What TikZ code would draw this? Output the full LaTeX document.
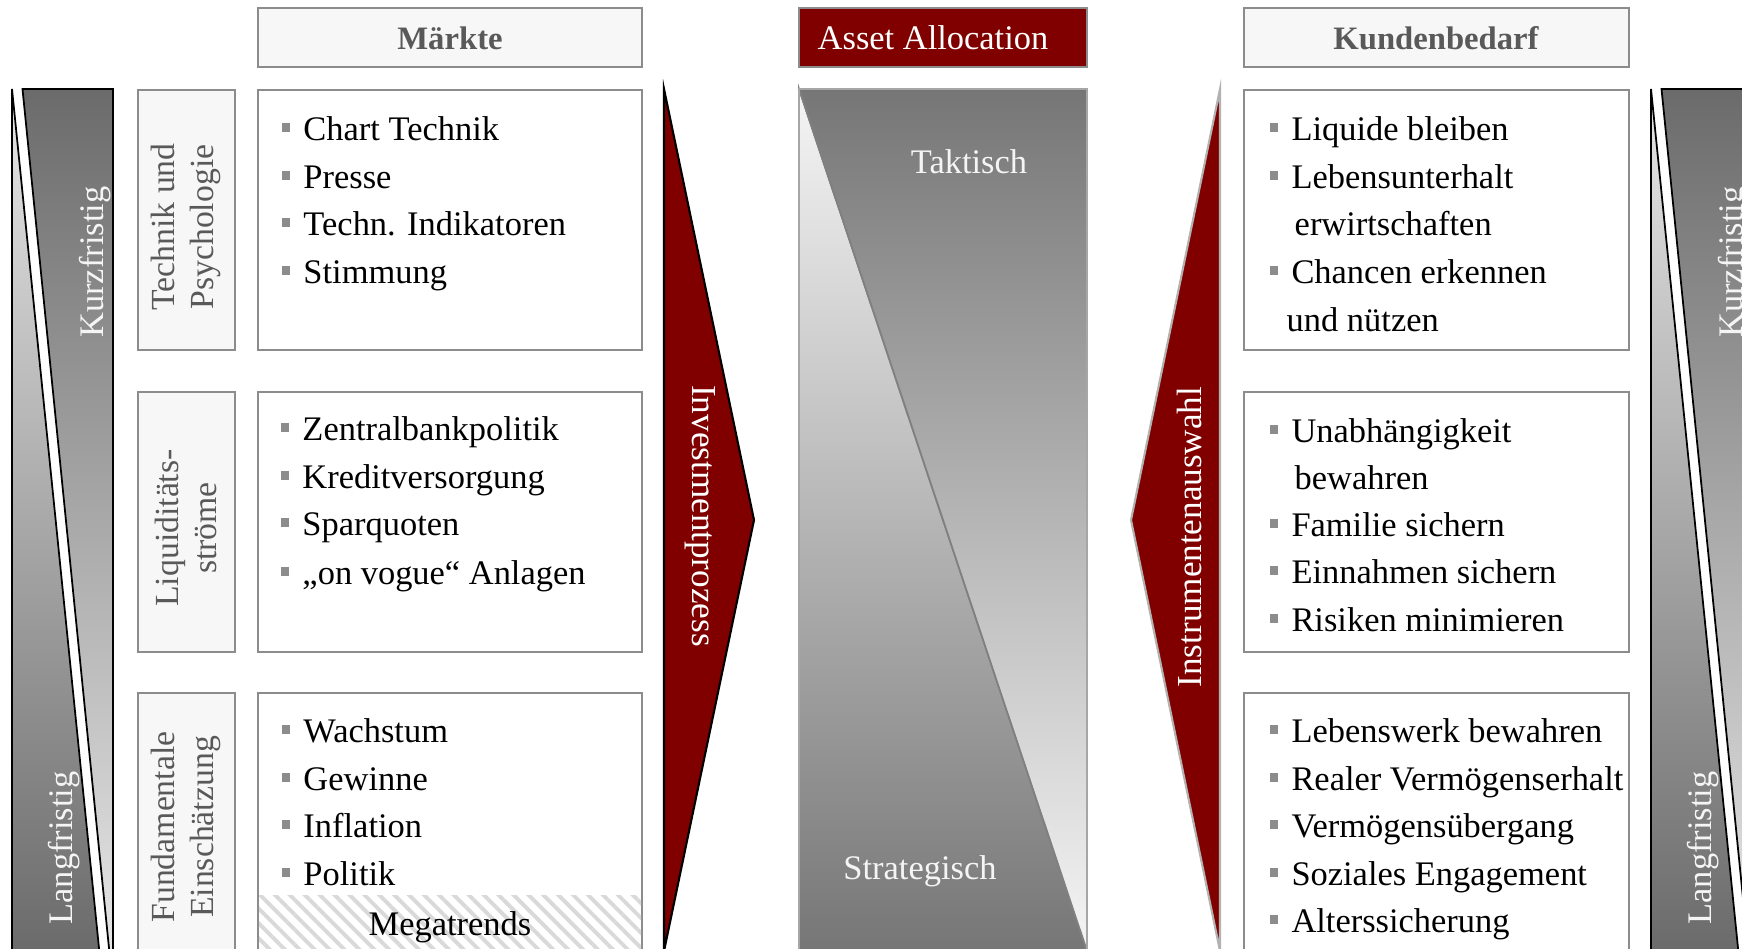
\documentclass[tikz,border=0pt]{standalone}
\usepackage{fontspec}
\setmainfont{Liberation Serif}
\usepackage{xcolor}
\usetikzlibrary{patterns.meta}

\definecolor{weinrot}{HTML}{800000}
\definecolor{rahmen}{HTML}{8C8C8C}
\definecolor{hellgrau}{HTML}{F7F7F7}
\definecolor{schrift}{HTML}{595959}
\definecolor{dunkelgrau}{HTML}{6B6B6B}
\definecolor{lichtgrau}{HTML}{E6E6E6}
\definecolor{mittelgrau}{HTML}{767676}
\definecolor{weissgrau}{HTML}{F5F5F5}
\definecolor{schraffur}{HTML}{D9D9D9}

\newcommand{\blt}{\textcolor{rahmen}{\rule[2.4pt]{2.4pt}{2.4pt}}\hspace{3.8pt}}

\begin{document}
\begin{tikzpicture}[x=0.1mm, y=-0.1mm,
        font=\fontsize{9.8}{13.6}\selectfont,
        rahmenbox/.style={draw=rahmen, line width=0.6pt},
        kopf/.style={rahmenbox, fill=hellgrau},
        kopftext/.style={anchor=base, text=schrift, font=\fontsize{9.3}{11}\selectfont\bfseries},
        seite/.style={rotate=90, align=center, text=schrift, font=\fontsize{9.6}{11}\selectfont},
        item/.style={anchor=base west, inner sep=0pt},
        zeit/.style={draw=black, line width=0.5pt},
        helltext/.style={text=weissgrau},
        pfeiltext/.style={text=white, font=\fontsize{10}{12}\selectfont}]

                \useasboundingbox (0,0) rectangle (1742,948);
                \clip (0,0) rectangle (1742,948);
                \fill[white] (0,0) rectangle (1742,948);

                %% Zeitachse links
                \shadedraw[zeit, top color=lichtgrau, bottom color=dunkelgrau] (12,89) -- (12,951) -- (99.3,951) -- cycle;
                \shadedraw[zeit, top color=dunkelgrau, bottom color=lichtgrau] (22.5,89) -- (113,89) -- (113,951) -- (109.3,951) -- cycle;
                \node[helltext, rotate=90] (kurzL) at (95,262) {Kurzfristig};
                \node[helltext, rotate=90] (langL) at (64,848) {Langfristig};

                %% Zeitachse rechts
                \shadedraw[zeit, top color=lichtgrau, bottom color=dunkelgrau] (1651,89) -- (1651,951) -- (1738.3,951) -- cycle;
                \shadedraw[zeit, top color=dunkelgrau, bottom color=lichtgrau] (1661.5,89) -- (1752,89) -- (1752,951) -- (1748.3,951) -- cycle;
                \node[helltext, rotate=90] (kurzR) at (1734,262) {Kurzfristig};
                \node[helltext, rotate=90] (langR) at (1703,848) {Langfristig};

                %% Kopfzeile
                \draw[kopf] (258,8) rectangle (642,67);
                \node[kopftext] (maerkte) at (450,49) {Märkte};
                \draw[rahmenbox, fill=weinrot] (799,8) rectangle (1087,67);
                \node[anchor=base, text=white] (asset) at (933,49) {Asset Allocation};
                \draw[kopf] (1244,8) rectangle (1629,67);
                \node[kopftext] (kunde) at (1436,49) {Kundenbedarf};

                %% Seitenfelder
                \draw[kopf] (138,90)  rectangle (235,350);
                \draw[kopf] (138,392) rectangle (235,652);
                \draw[kopf] (138,693) rectangle (235,953);
                \node[seite] (technik) at (186,227) {Technik und\\Psychologie};
                \node[seite] (liqui)   at (186,528) {Liquiditäts-\\ströme};
                \node[seite] (fund)    at (186,827) {Fundamentale\\Einschätzung};

                %% Maerkte
                \draw[rahmenbox, fill=white] (258,90)  rectangle (642,350);
                \draw[rahmenbox, fill=white] (258,392) rectangle (642,652);
                \draw[rahmenbox, fill=white] (258,693) rectangle (642,953);

                \node[item] (chart)  at (281,140) {\blt Chart Technik};
                \node[item] (presse) at (281,188) {\blt Presse};
                \node[item] (indik)  at (281,235) {\blt Techn. Indikatoren};
                \node[item] (stimm)  at (281,283) {\blt Stimmung};

                \node[item] (zentral) at (280,440) {\blt Zentralbankpolitik};
                \node[item] (kredit)  at (280,488) {\blt Kreditversorgung};
                \node[item] (spar)    at (280,535) {\blt Sparquoten};
                \node[item] (vogue)   at (280,584) {\blt „on vogue“ Anlagen};

                \node[item] (wachs)  at (281,742) {\blt Wachstum};
                \node[item] (gewinn) at (281,790) {\blt Gewinne};
                \node[item] (infl)   at (281,837) {\blt Inflation};
                \node[item] (polit)  at (281,885) {\blt Politik};

                % Megatrends
                \fill[pattern={Lines[angle=-45, distance=3pt, line width=1.1pt]}, pattern color=schraffur] (259,895) rectangle (641,952);
                \node[anchor=base] (mega) at (450,935) {Megatrends};

                %% Investmentprozess
                \filldraw[fill=weinrot, draw=black, line width=0.6pt] (664,89) -- (754,520) -- (664,951) -- cycle;
                \node[pfeiltext, rotate=-90] (invest) at (700,516) {Investmentprozess};

                %% Asset Allocation
                \shadedraw[draw=gray, line width=0.5pt, top color=weissgrau, middle color=black!22, bottom color=mittelgrau] (799,89) -- (799,951) -- (1087,951) -- cycle;
                \shadedraw[draw=gray, line width=0.5pt, top color=mittelgrau, middle color=black!25, bottom color=weissgrau] (799,89) -- (1087,89) -- (1087,951) -- cycle;
                \draw[rahmenbox, draw=gray!70] (799,89) rectangle (1087,951);
                \node[helltext, anchor=base] (takt)  at (969,173) {Taktisch};
                \node[helltext, anchor=base] (strat) at (920,879) {Strategisch};

                %% Instrumentenauswahl
                \filldraw[fill=weinrot, draw=gray!60, line width=0.6pt] (1220,89) -- (1131,520) -- (1220,951) -- cycle;
                \node[pfeiltext, rotate=90] (instr) at (1189,537) {Instrumentenauswahl};

                %% Kundenbedarf
                \draw[rahmenbox, fill=white] (1244,90)  rectangle (1629,350);
                \draw[rahmenbox, fill=white] (1244,392) rectangle (1629,652);
                \draw[rahmenbox, fill=white] (1244,693) rectangle (1629,953);

                \node[item] (liquide) at (1269,140) {\blt Liquide bleiben};
                \node[item] (leben)   at (1269,188) {\blt Lebensunterhalt};
                \node[item] (erwirt)  at (1294,235) {erwirtschaften};
                \node[item] (chancen) at (1269,283) {\blt Chancen erkennen};
                \node[item] (nuetzen) at (1286,331) {und nützen};

                \node[item] (unab)    at (1269,442) {\blt Unabhängigkeit};
                \node[item] (bewahr)  at (1294,489) {bewahren};
                \node[item] (familie) at (1269,536) {\blt Familie sichern};
                \node[item] (einnahm) at (1269,583) {\blt Einnahmen sichern};
                \node[item] (risiko)  at (1269,631) {\blt Risiken minimieren};

                \node[item] (werk)    at (1269,742) {\blt Lebenswerk bewahren};
                \node[item] (real)    at (1269,790) {\blt Realer Vermögenserhalt};
                \node[item] (uebergang) at (1269,837) {\blt Vermögensübergang};
                \node[item] (sozial)  at (1269,885) {\blt Soziales Engagement};
                \node[item] (alter)   at (1269,932) {\blt Alterssicherung};

\end{tikzpicture}
\end{document}
